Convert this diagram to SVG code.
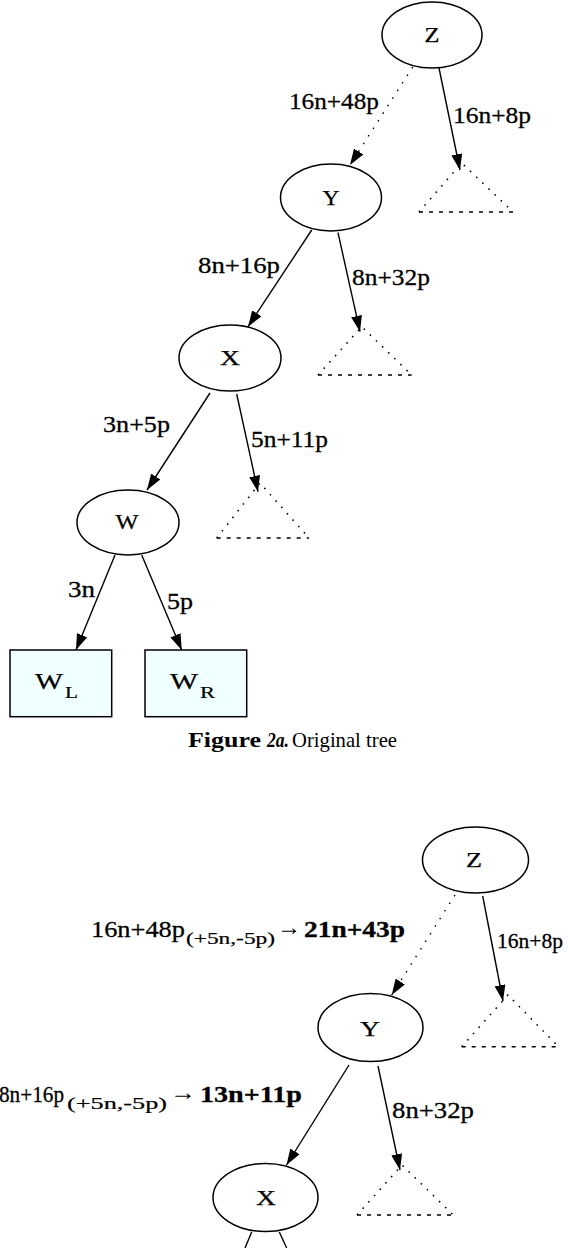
<svg xmlns="http://www.w3.org/2000/svg" width="568" height="1248" viewBox="0 0 568 1248" font-family="'Liberation Serif', 'Times New Roman', serif">
<style>
.n{fill:#fff;stroke:#000;stroke-width:1.5}
.b{fill:#f0ffff;stroke:#000;stroke-width:1.5}
.e{fill:none;stroke:#000;stroke-width:1.4;marker-end:url(#ah)}
.d{stroke-dasharray:1.5 7.5}
.t{fill:none;stroke:#000;stroke-width:1.6;stroke-dasharray:1.5 7}
.tb{fill:none;stroke:#000;stroke-width:1.6;stroke-dasharray:4 6}
text{font-family:'Liberation Serif','Times New Roman',serif;fill:#000}
.nl{font-size:20px;text-anchor:middle;stroke:#000;stroke-width:0.25}
.el{font-size:24px;stroke:#000;stroke-width:0.3}
.sub{font-size:16px;stroke:#000;stroke-width:0.2}
.arr{font-size:24px}
.bold{font-weight:bold}
</style>
<defs>
<marker id="ah" viewBox="0 0 16 11" refX="16" refY="5.5" markerWidth="16" markerHeight="11" markerUnits="userSpaceOnUse" orient="auto">
<path d="M0,0 L16,5.5 L0,11 z" fill="#000"/>
</marker>
</defs>

<g id="connectors">
<line class="e d" x1="412.7" y1="67" x2="350" y2="165"/>
<line class="e" x1="439" y1="68" x2="460" y2="170"/>
<line class="e" x1="311.7" y1="230" x2="248" y2="326.7"/>
<line class="e" x1="338" y1="232.7" x2="360" y2="331.7"/>
<line class="e" x1="210" y1="393" x2="147" y2="490"/>
<line class="e" x1="236.7" y1="394" x2="258" y2="491.7"/>
<line class="e" x1="115" y1="555" x2="76" y2="650"/>
<line class="e" x1="141.7" y1="555" x2="181.7" y2="650"/>
<line class="e d" x1="455" y1="895" x2="391.7" y2="995"/>
<line class="e" x1="482.7" y1="896" x2="503" y2="1001"/>
<line class="e" x1="349" y1="1065" x2="286.5" y2="1165"/>
<line class="e" x1="378" y1="1066" x2="400" y2="1170"/>
<line x1="251.7" y1="1232" x2="245" y2="1248" stroke="#000" stroke-width="1.4"/>
<line x1="279.3" y1="1232" x2="286.7" y2="1248" stroke="#000" stroke-width="1.4"/>
</g>

<g id="edge-labels">
<text class="el" x="289" y="109" textLength="90" lengthAdjust="spacingAndGlyphs">16n+48p</text>
<text class="el" x="453" y="123" textLength="78" lengthAdjust="spacingAndGlyphs">16n+8p</text>
<text class="el" x="198" y="273" textLength="82" lengthAdjust="spacingAndGlyphs">8n+16p</text>
<text class="el" x="352" y="285" textLength="78" lengthAdjust="spacingAndGlyphs">8n+32p</text>
<text class="el" x="103" y="432" textLength="67" lengthAdjust="spacingAndGlyphs">3n+5p</text>
<text class="el" x="251" y="447" textLength="77" lengthAdjust="spacingAndGlyphs">5n+11p</text>
<text class="el" x="68" y="597" textLength="27" lengthAdjust="spacingAndGlyphs">3n</text>
<text class="el" x="167" y="609" textLength="26" lengthAdjust="spacingAndGlyphs">5p</text>

<text class="el" x="91" y="937" textLength="94" lengthAdjust="spacingAndGlyphs">16n+48p</text>
<text class="sub" x="186" y="944" textLength="89" lengthAdjust="spacingAndGlyphs">(+5n,-5p)</text>
<text class="arr" x="277" y="935" textLength="24" lengthAdjust="spacingAndGlyphs">→</text>
<text class="el bold" x="304" y="937" textLength="101" lengthAdjust="spacingAndGlyphs">21n+43p</text>
<text class="el" x="497" y="948" font-size="22" textLength="66" lengthAdjust="spacingAndGlyphs" style="font-size:22px">16n+8p</text>

<text class="el" x="-1" y="1102" textLength="65" lengthAdjust="spacingAndGlyphs">8n+16p</text>
<text class="sub" x="67" y="1109" textLength="100" lengthAdjust="spacingAndGlyphs">(+5n,-5p)</text>
<text class="arr" x="170" y="1100" textLength="26" lengthAdjust="spacingAndGlyphs">→</text>
<text class="el bold" x="200" y="1102" textLength="102" lengthAdjust="spacingAndGlyphs">13n+11p</text>
<text class="el" x="392" y="1118" textLength="82" lengthAdjust="spacingAndGlyphs">8n+32p</text>
</g>

<g id="top-Z"><ellipse class="n" cx="432" cy="35" rx="50" ry="33"/><text class="nl" x="432" y="42" textLength="15" lengthAdjust="spacingAndGlyphs">Z</text></g>
<g id="top-Y"><ellipse class="n" cx="331" cy="197.5" rx="50.5" ry="33.5"/><text class="nl" x="331" y="205" textLength="17" lengthAdjust="spacingAndGlyphs">Y</text></g>
<g id="top-X"><ellipse class="n" cx="230" cy="358" rx="51" ry="33"/><text class="nl" x="230" y="365" textLength="20" lengthAdjust="spacingAndGlyphs">X</text></g>
<g id="top-W"><ellipse class="n" cx="128" cy="522.5" rx="51" ry="32.5"/><text class="nl" x="127" y="529" textLength="23" lengthAdjust="spacingAndGlyphs">W</text></g>

<g id="top-tri-Z"><polyline class="t" points="419,212 461.7,163 513,212"/><line class="tb" x1="419" y1="212" x2="513" y2="212"/></g>
<g id="top-tri-Y"><polyline class="t" points="318,375 361.7,326.7 411.7,375"/><line class="tb" x1="318" y1="375" x2="411.7" y2="375"/></g>
<g id="top-tri-X"><polyline class="t" points="216.7,538 260,483 309,538"/><line class="tb" x1="216.7" y1="538" x2="309" y2="538"/></g>

<g id="top-WL"><rect class="b" x="10" y="650" width="101.7" height="66.7"/><text x="35" y="689" font-size="23" stroke="#000" stroke-width="0.25" textLength="28" lengthAdjust="spacingAndGlyphs">W</text><text x="65" y="698" class="sub" textLength="13" lengthAdjust="spacingAndGlyphs">L</text></g>
<g id="top-WR"><rect class="b" x="145" y="650" width="101.7" height="66.7"/><text x="170" y="689" font-size="23" stroke="#000" stroke-width="0.25" textLength="28" lengthAdjust="spacingAndGlyphs">W</text><text x="200" y="698" class="sub" textLength="15" lengthAdjust="spacingAndGlyphs">R</text></g>

<g id="caption">
<text x="188" y="747" font-size="21" font-weight="bold" textLength="73" lengthAdjust="spacingAndGlyphs">Figure</text>
<text x="267" y="747" font-size="21" font-weight="bold" font-style="italic" textLength="22" lengthAdjust="spacingAndGlyphs">2a.</text>
<text x="292" y="747" font-size="21" textLength="105" lengthAdjust="spacingAndGlyphs">Original tree</text>
</g>

<g id="bot-Z"><ellipse class="n" cx="475.5" cy="860" rx="53" ry="33"/><text class="nl" x="474" y="867" textLength="16" lengthAdjust="spacingAndGlyphs">Z</text></g>
<g id="bot-Y"><ellipse class="n" cx="370.5" cy="1027.5" rx="52.5" ry="34"/><text class="nl" x="370" y="1036" textLength="20" lengthAdjust="spacingAndGlyphs">Y</text></g>
<g id="bot-X"><ellipse class="n" cx="265.5" cy="1197.5" rx="52.5" ry="34"/><text class="nl" x="266" y="1205" textLength="20" lengthAdjust="spacingAndGlyphs">X</text></g>

<g id="bot-tri-Z"><polyline class="t" points="461.7,1046.7 508,995 558.5,1046.7"/><line class="tb" x1="461.7" y1="1046.7" x2="558.5" y2="1046.7"/></g>
<g id="bot-tri-Y"><polyline class="t" points="357,1215 402,1165 453.3,1215"/><line class="tb" x1="357" y1="1215" x2="453.3" y2="1215"/></g>
</svg>
